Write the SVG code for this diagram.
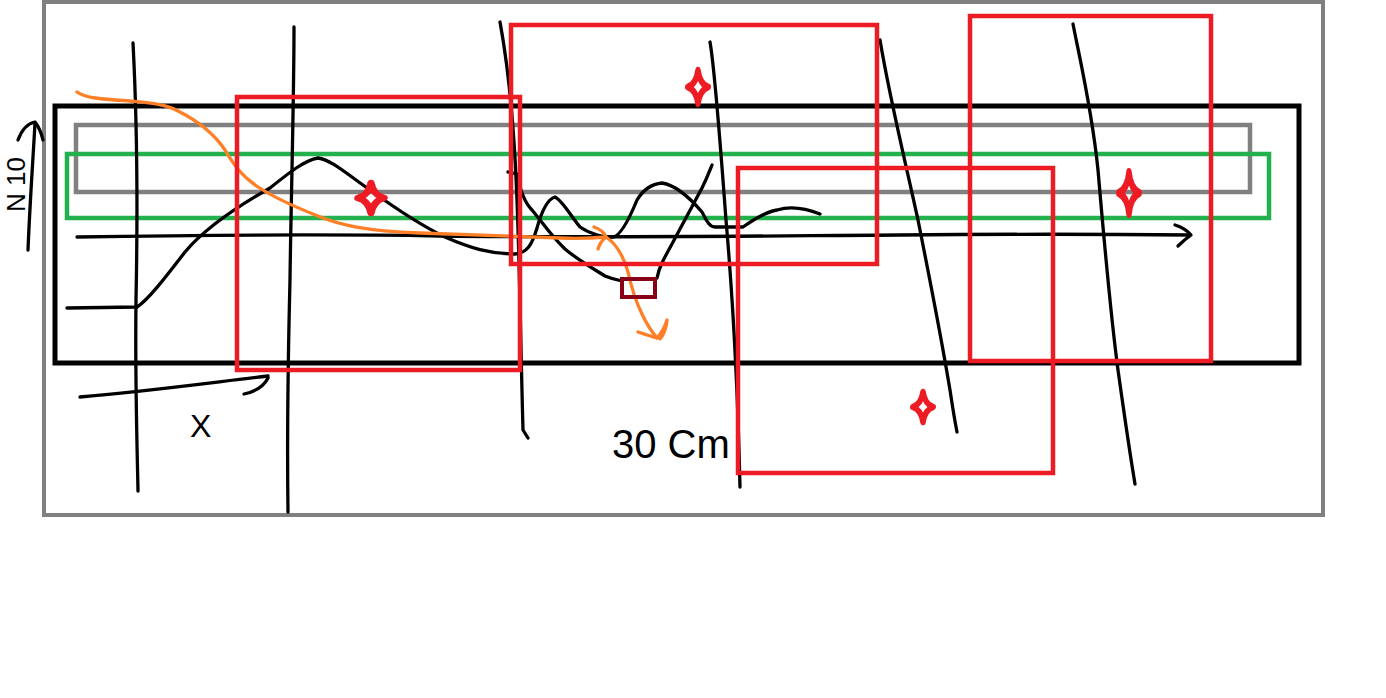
<svg xmlns="http://www.w3.org/2000/svg" width="1386" height="698" viewBox="0 0 1386 698">
<style>
.ink{fill:none;stroke:#000;stroke-width:3.3;stroke-linecap:round;stroke-linejoin:round}
.org{fill:none;stroke:#ff7f27;stroke-width:3.3;stroke-linecap:round;stroke-linejoin:round}
.red{fill:none;stroke:#ed1c24;stroke-width:4.5}
.hand{font-family:"Liberation Sans",Arial,sans-serif;fill:#000}
</style>
<defs>
<path id="star" d="M0,-16 Q2.2,-2.8 12,0 Q2.2,2.8 0,16 Q-2.2,2.8 -12,0 Q-2.2,-2.8 0,-16 Z" fill="none" stroke="#ed1c24" stroke-width="6.5" stroke-linejoin="round"/>
</defs>
<rect width="1386" height="698" fill="#fff"/>
<g id="frames">
<rect x="44" y="2" width="1279" height="513" fill="none" stroke="#808080" stroke-width="4"/>
<rect x="55" y="106" width="1244" height="257" fill="none" stroke="#000" stroke-width="5"/>
<rect x="76" y="125" width="1174" height="67" fill="none" stroke="#808080" stroke-width="4.5"/>
<rect x="67" y="154" width="1202" height="64" fill="none" stroke="#22b14c" stroke-width="4.5"/>
</g>
<g id="lines">
<path class="ink" d="M133,43 C136,100 138,200 136,300 C135,380 137,440 138,491"/>
<path class="ink" d="M294,27 C294,100 291,200 290,280 C288,360 287,440 288,512"/>
<path class="ink" d="M500,22 C507,60 514,120 517,200 C520,280 521,360 523,430 L528,438"/>
<path class="ink" d="M710,42 C715,70 720,140 726,220 C733,300 738,400 740,487"/>
<path class="ink" d="M880,40 C890,100 905,160 918,220 C932,290 945,360 950,390 C953,410 955,422 957,432"/>
<path class="ink" d="M1073,24 C1080,60 1092,110 1098,170 C1104,240 1110,310 1118,370 C1125,420 1131,460 1135,484"/>
<path class="ink" d="M77,237 C200,235 320,234 440,236 C600,238 750,236 900,235 C1000,234 1100,234 1190,235"/>
<path class="ink" d="M1175,225 Q1185,228 1191,235 Q1184,240 1178,246"/>
<path class="ink" d="M28,250 C30,200 33,160 35,123"/>
<path class="ink" d="M18,140 Q24,124 35,122 Q40,128 43,140"/>
<path class="ink" d="M80,397 C140,392 200,384 268,376"/>
<path class="ink" d="M244,394 Q262,390 268,378"/>
<path class="ink" d="M67,308 L137,307 C148,300 165,278 185,252 C205,228 240,205 270,188 C290,172 305,160 318,158 C332,160 348,175 370,190 C395,208 420,225 445,237 C470,248 490,254 515,254 C527,253 532,245 537,228 C542,210 548,199 555,197 C562,200 570,215 580,227 C590,234 605,238 613,237 C620,236 628,222 637,200 C643,190 652,184 662,183 C675,185 690,198 702,212 C707,222 710,227 715,227 L743,227 C753,220 765,212 777,210 C790,206 805,208 820,214"/>
<path class="ink" d="M508,172 L517,174 C520,190 524,202 532,210 C542,222 552,237 565,249 C578,260 592,268 605,276 C612,279 617,280 622,281"/>
<path class="ink" d="M657,278 C659,268 662,262 672,244 C682,225 693,205 702,188 C707,178 710,170 712,165"/>
</g>
<g id="orange">
<path class="org" d="M77,92 C85,98 100,99 130,101 C150,103 165,104 178,111 C200,122 215,135 225,150 C233,163 240,175 258,187 C275,198 295,207 318,216 C340,225 365,231 420,233 C470,235 520,237 560,238 C580,239 595,238 606,237"/>
<path class="org" d="M594,227 Q603,230 606,237 Q600,242 598,249"/>
<path class="org" d="M606,237 C618,245 624,258 628,272 C632,290 636,302 642,314 C647,325 652,332 657,338"/>
<path class="org" d="M638,332 Q650,336 657,338 Q664,330 667,320 Q666,332 660,339"/>
</g>
<g id="boxes">
<rect class="red" x="237" y="97" width="283" height="273"/>
<rect class="red" x="511" y="25" width="366" height="239"/>
<rect class="red" x="738" y="168" width="315" height="305"/>
<rect class="red" x="970" y="16" width="241" height="345"/>
<rect x="622" y="279" width="33" height="18" fill="none" stroke="#880015" stroke-width="4"/>
</g>
<g id="stars">
<use href="#star" transform="translate(371,198) scale(1.1,0.95)"/>
<use href="#star" transform="translate(698,87) scale(0.85,1.05)"/>
<use href="#star" transform="translate(923,407) scale(0.85,0.95)"/>
<use href="#star" transform="translate(1129,193) scale(0.85,1.3)"/>
</g>
<g id="labels">
<text class="hand" x="0" y="0" font-size="26" transform="translate(25,212) rotate(-90)">N 10</text>
<text class="hand" x="190" y="437" font-size="32">X</text>
<text class="hand" x="612" y="458" font-size="40">30 Cm</text>
</g>
</svg>
